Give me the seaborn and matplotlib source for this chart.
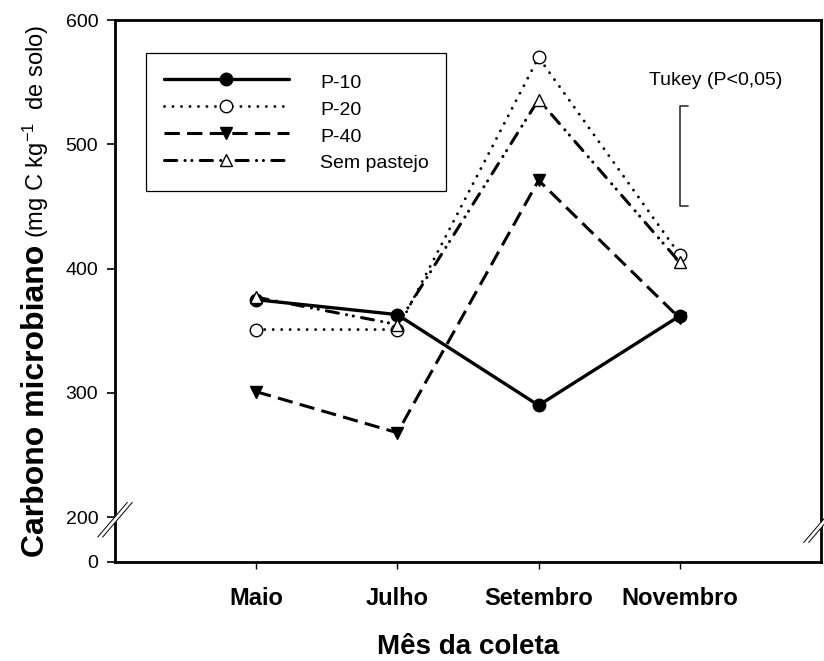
import matplotlib
matplotlib.use("Agg")
import matplotlib.pyplot as plt
import seaborn as sns
import pandas as pd

# values
months = ["Maio", "Julho", "Setembro", "Novembro"]
p10 = [375, 363, 290, 362]
p20 = [351, 351, 570, 411]
p40 = [301, 268, 471, 360]
sem_pastejo = [377, 355, 536, 405]
series_names = ["P-10", "P-20", "P-40", "Sem pastejo"]

y_ticks = [200, 300, 400, 500, 600]
y_floor = 164          # bottom of broken axis, labelled "0"
tukey_low, tukey_high = 450, 531

sns.set_style("ticks")
plt.rcParams["font.family"] = ["Liberation Sans", "DejaVu Sans"]
plt.rcParams["mathtext.fontset"] = "custom"
plt.rcParams["mathtext.rm"] = "Liberation Sans"
plt.rcParams["mathtext.default"] = "regular"
for k in ["text.color", "axes.labelcolor", "xtick.color", "ytick.color", "axes.edgecolor"]:
    plt.rcParams[k] = "black"

df = pd.DataFrame({"Mes": months * 4,
                   "Carbono": p10 + p20 + p40 + sem_pastejo,
                   "Tratamento": [n for n in series_names for _ in months]})

styles = {
    "P-10": dict(linestyle="-", lw=2.4, marker="o", markerfacecolor="black"),
    "P-20": dict(linestyle=(0, (0.01, 2.9)), lw=2.1, marker="o", markerfacecolor="white",
                 dash_capstyle="round"),
    "P-40": dict(linestyle=(0, (5, 2.4)), lw=2.2, marker="v", markerfacecolor="black"),
    "Sem pastejo": dict(linestyle=(0, (4, 2.7, 0.05, 2.2, 0.05, 2.7)), lw=2.2, marker="^",
                        markerfacecolor="white", dash_capstyle="round"),
}

fig = plt.figure(figsize=(8.24, 6.61), dpi=100)
ax = fig.add_axes([115 / 824, 99 / 661, 706 / 824, 542 / 661])

for name in series_names:
    sub = df[df["Tratamento"] == name]
    sns.lineplot(data=sub, x="Mes", y="Carbono", ax=ax, color="black", label=name,
                 markersize=9, markeredgecolor="black", markeredgewidth=1.0,
                 sort=False, **styles[name])

ax.set_xlim(-1, 4)
ax.set_ylim(y_floor, 600)
ax.set_yticks([y_floor] + y_ticks)
ax.set_yticklabels(["0"] + [str(t) for t in y_ticks])
ax.set_xticks(range(len(months)))
ax.set_xticklabels(months, fontweight="bold")

for s in ax.spines.values():
    s.set_linewidth(2)
    s.set_color("black")
ax.tick_params(axis="y", direction="out", length=6, width=1.2, labelsize=14, pad=6, colors="black")
ax.tick_params(axis="x", direction="out", length=5, width=1, labelsize=17, pad=13, colors="black")

ax.set_xlabel("Mês da coleta", fontsize=20, fontweight="bold", labelpad=17)
ax.set_ylabel("")

leg = ax.legend(loc="upper left", bbox_to_anchor=(0.044, 0.939), borderaxespad=0,
                frameon=True, fancybox=False, edgecolor="black", framealpha=1,
                fontsize=14, handlelength=6.45, handletextpad=1.6, labelspacing=0.22,
                handleheight=1.4, borderpad=0.9)
leg.get_frame().set_linewidth(0.9)

# Tukey bracket
ax.plot([3.055, 3, 3, 3.055], [tukey_high, tukey_high, tukey_low, tukey_low],
        color="#333333", lw=1.2)
ax.text(3.255, 551, "Tukey (P<0,05)", fontsize=14, ha="center", va="center")

# axis break marks
def axis_break(xa, ya):
    dx, dy = 0.021, 0.032
    kw = dict(transform=ax.transAxes, clip_on=False)
    ax.plot([xa - dx, xa + dx], [ya - dy, ya + dy], color="white", lw=3, zorder=5, **kw)
    for off in (-0.0035, 0.0035):
        ax.plot([xa - dx + off, xa + dx + off], [ya - dy, ya + dy], color="black",
                lw=0.7, zorder=6, **kw)

axis_break(0, 0.078)
axis_break(1, 0.068)

# y label: bold part + regular part
fig.canvas.draw()
r = fig.canvas.get_renderer()
base_x = 44 / 824
t1 = fig.text(base_x, 0, "Carbono microbiano", rotation=90, rotation_mode="anchor",
              ha="left", va="baseline", fontsize=23, fontweight="bold")
t2 = fig.text(base_x, 0, r"(mg C kg$^{-1}$  de solo)", rotation=90, rotation_mode="anchor",
              ha="left", va="baseline", fontsize=17)
l1 = t1.get_window_extent(r).height
l2 = t2.get_window_extent(r).height
gap = 7
bb = ax.get_window_extent(r)
start = (bb.y0 + bb.y1) / 2 - (l1 + gap + l2) / 2
H = fig.bbox.height
t1.set_position((base_x, start / H))
t2.set_position((base_x, (start + l1 + gap) / H))

fig.savefig("out.png", dpi=100)
